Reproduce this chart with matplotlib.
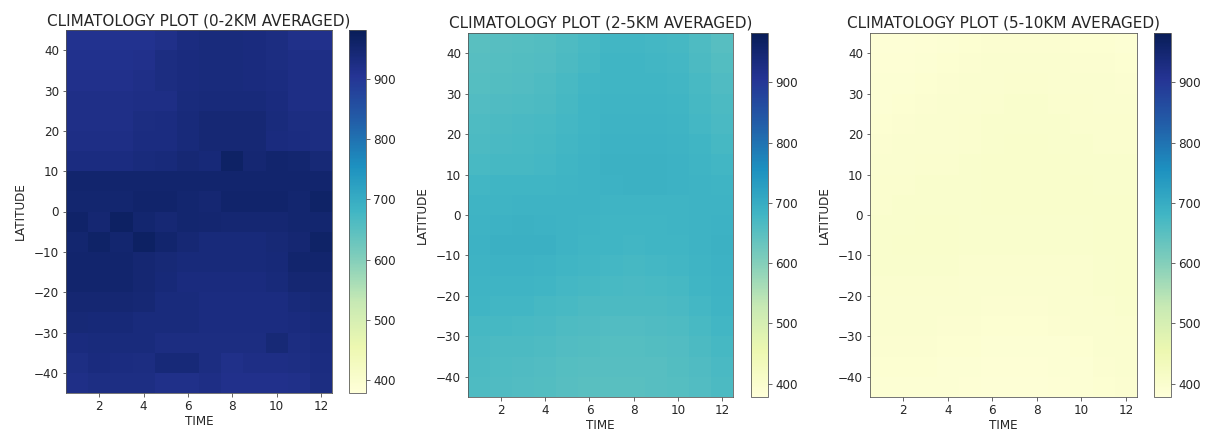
import numpy as np
import matplotlib
matplotlib.use("Agg")
import matplotlib.pyplot as plt

time = list(range(1, 13))
latitude = [42.5, 37.5, 32.5, 27.5, 22.5, 17.5, 12.5, 7.5, 2.5,
            -2.5, -7.5, -12.5, -17.5, -22.5, -27.5, -32.5, -37.5, -42.5]

titles = ["CLIMATOLOGY PLOT (0-2KM AVERAGED)",
          "CLIMATOLOGY PLOT (2-5KM AVERAGED)",
          "CLIMATOLOGY PLOT (5-10KM AVERAGED)"]

layer_0_2km = [
    [912, 912, 912, 913, 920, 932, 935, 935, 933, 928, 920, 916],
    [915, 915, 915, 918, 930, 933, 935, 935, 933, 928, 924, 924],
    [918, 918, 918, 921, 928, 933, 935, 935, 933, 932, 924, 924],
    [921, 921, 921, 925, 925, 935, 938, 938, 938, 933, 925, 925],
    [923, 923, 923, 928, 931, 938, 945, 945, 945, 935, 928, 928],
    [925, 925, 925, 931, 931, 938, 945, 945, 945, 933, 931, 928],
    [931, 931, 931, 935, 938, 945, 941, 965, 948, 955, 952, 943],
    [954, 954, 954, 954, 955, 955, 955, 955, 955, 955, 955, 955],
    [952, 952, 952, 957, 957, 952, 948, 957, 957, 957, 952, 962],
    [960, 948, 966, 952, 945, 952, 950, 948, 948, 948, 952, 952],
    [952, 963, 952, 966, 954, 945, 938, 938, 938, 943, 948, 962],
    [954, 954, 954, 948, 943, 938, 938, 938, 938, 941, 954, 954],
    [954, 954, 954, 948, 941, 933, 933, 933, 933, 938, 948, 948],
    [948, 948, 948, 945, 935, 935, 931, 931, 931, 931, 938, 943],
    [943, 941, 941, 935, 935, 935, 931, 931, 931, 931, 933, 938],
    [933, 935, 935, 935, 928, 928, 928, 928, 928, 943, 928, 933],
    [926, 933, 931, 928, 941, 941, 928, 920, 924, 924, 926, 931],
    [922, 926, 926, 926, 920, 920, 924, 916, 916, 916, 920, 928],
]

layer_2_5km = [
    [650, 652, 655, 658, 665, 672, 678, 678, 676, 673, 664, 654],
    [653, 655, 658, 661, 668, 675, 680, 680, 678, 676, 667, 658],
    [656, 658, 661, 664, 671, 678, 682, 682, 681, 679, 671, 662],
    [660, 662, 665, 668, 674, 680, 684, 684, 683, 681, 674, 666],
    [664, 666, 669, 672, 677, 682, 686, 687, 686, 684, 677, 670],
    [668, 670, 672, 674, 679, 684, 688, 689, 688, 686, 680, 674],
    [672, 674, 675, 677, 681, 686, 690, 691, 690, 689, 683, 678],
    [678, 680, 681, 682, 684, 686, 689, 690, 690, 689, 686, 683],
    [683, 684, 686, 687, 686, 685, 684, 684, 684, 684, 685, 686],
    [686, 688, 690, 689, 686, 684, 682, 681, 682, 683, 685, 688],
    [688, 692, 694, 692, 686, 682, 680, 679, 680, 682, 685, 690],
    [687, 688, 689, 686, 682, 678, 676, 675, 676, 678, 683, 688],
    [684, 684, 683, 680, 676, 673, 671, 670, 671, 674, 680, 686],
    [680, 679, 678, 675, 671, 668, 666, 666, 667, 670, 676, 683],
    [675, 673, 672, 669, 665, 662, 661, 661, 662, 665, 671, 678],
    [670, 668, 667, 664, 660, 657, 656, 656, 657, 661, 667, 673],
    [666, 664, 662, 659, 655, 653, 652, 652, 654, 658, 663, 669],
    [664, 662, 660, 657, 653, 651, 650, 651, 652, 656, 661, 667],
]

layer_5_10km = [
    [386, 387, 389, 391, 393, 395, 396, 396, 395, 394, 393, 392],
    [388, 389, 391, 393, 395, 397, 398, 398, 397, 396, 395, 394],
    [390, 391, 393, 395, 397, 399, 400, 400, 399, 398, 397, 396],
    [392, 393, 395, 397, 399, 401, 402, 402, 401, 400, 399, 398],
    [394, 395, 397, 398, 400, 402, 403, 403, 402, 401, 400, 400],
    [396, 397, 398, 399, 401, 403, 404, 404, 403, 402, 401, 401],
    [398, 399, 400, 401, 402, 404, 405, 405, 404, 403, 402, 402],
    [400, 401, 402, 402, 403, 404, 405, 405, 405, 404, 403, 403],
    [401, 402, 403, 403, 403, 404, 404, 404, 404, 404, 404, 404],
    [402, 403, 404, 404, 403, 403, 403, 403, 403, 403, 404, 405],
    [403, 404, 405, 404, 403, 402, 402, 402, 402, 403, 404, 405],
    [402, 403, 403, 402, 401, 400, 400, 400, 400, 401, 403, 405],
    [401, 401, 401, 400, 399, 398, 398, 398, 398, 400, 402, 404],
    [399, 399, 399, 398, 397, 396, 396, 396, 397, 398, 401, 403],
    [397, 397, 397, 396, 395, 394, 394, 394, 395, 397, 399, 401],
    [395, 395, 395, 394, 393, 392, 391, 391, 392, 394, 397, 399],
    [393, 393, 393, 392, 390, 389, 388, 388, 390, 392, 395, 397],
    [392, 392, 391, 390, 388, 387, 386, 386, 388, 390, 393, 396],
]

vmin, vmax = 378, 982
cbar_ticks = [400, 500, 600, 700, 800, 900]

plt.rcParams.update({
    "font.size": 12,
    "text.color": "#262626",
    "axes.labelcolor": "#262626",
    "xtick.color": "#444444",
    "ytick.color": "#444444",
    "xtick.labelcolor": "#262626",
    "ytick.labelcolor": "#262626",
    "axes.edgecolor": "#555555",
})

W, H = 1210, 443
fig = plt.figure(figsize=(W / 72, H / 72), dpi=72)

ax_boxes = [(66, 30, 332, 393), (468, 33, 733, 397), (870, 33, 1137, 397)]
cb_boxes = [(349, 30, 366, 393), (751, 33, 768, 397), (1154, 33, 1171, 397)]

def to_fig(box):
    l, t, r, b = box
    return [l / W, 1 - b / H, (r - l) / W, (b - t) / H]

for data, title, abox, cbox in zip([layer_0_2km, layer_2_5km, layer_5_10km],
                                   titles, ax_boxes, cb_boxes):
    ax = fig.add_axes(to_fig(abox))
    cax = fig.add_axes(to_fig(cbox))
    mesh = ax.pcolormesh(time, latitude, np.array(data), cmap="YlGnBu",
                         vmin=vmin, vmax=vmax, shading="nearest")
    ax.set_xlim(0.5, 12.5)
    ax.set_ylim(-45, 45)
    ax.set_xticks([2, 4, 6, 8, 10, 12])
    ax.set_yticks([-40, -30, -20, -10, 0, 10, 20, 30, 40])
    ax.tick_params(labelsize=12)
    ax.set_title(title, fontsize=15.3, pad=5)
    ax.set_xlabel("TIME", fontsize=12, labelpad=2)
    ax.set_ylabel("LATITUDE", fontsize=12, labelpad=7)
    cb = fig.colorbar(mesh, cax=cax)
    cb.set_ticks(cbar_ticks)
    cb.ax.tick_params(labelsize=12)
    cb.outline.set_edgecolor("#555555")

fig.savefig("out.png", dpi=72)
